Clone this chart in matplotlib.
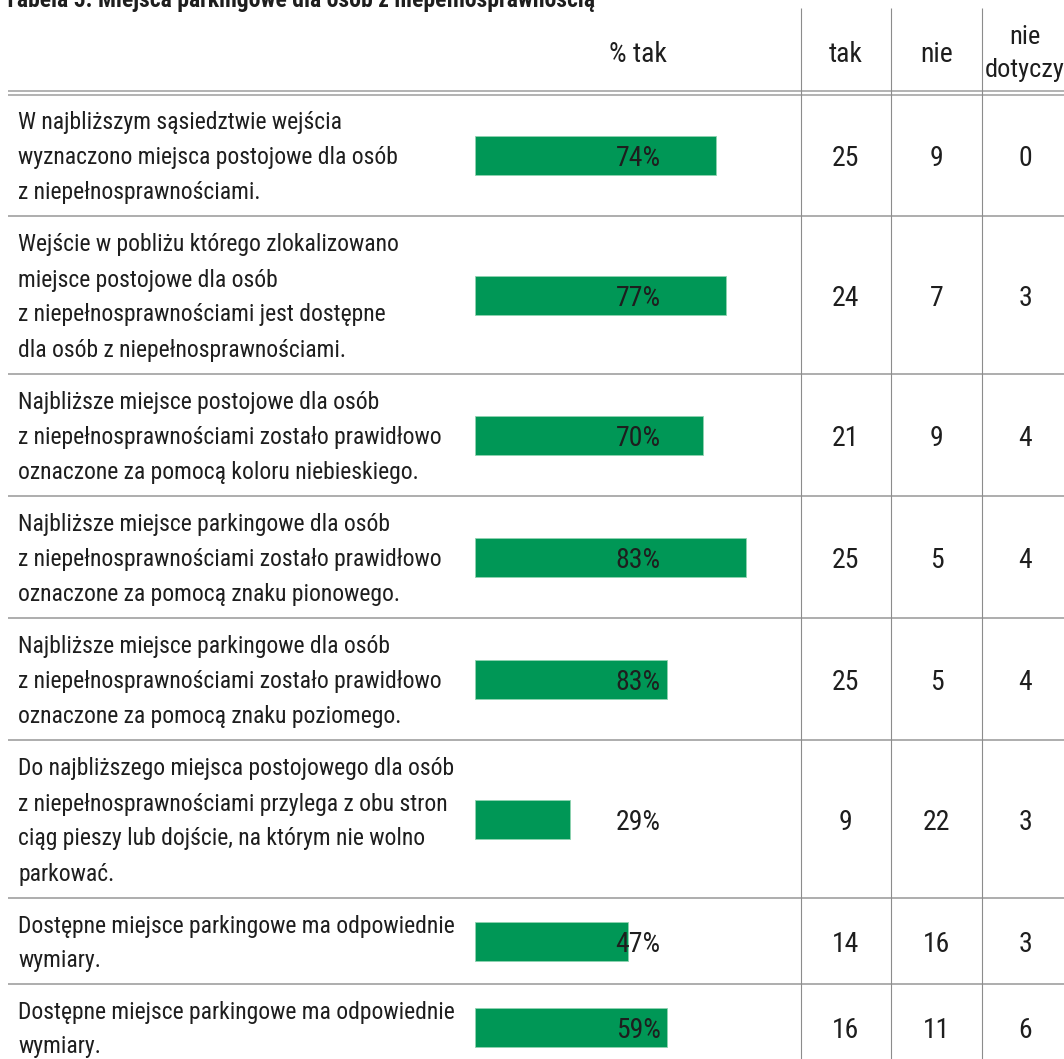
import matplotlib
matplotlib.use("Agg")
import matplotlib.pyplot as plt
from matplotlib import font_manager as fm

# --- data ---
title = "Tabela 5. Miejsca parkingowe dla osób z niepełnosprawnością"
questions = [
    "W najbliższym sąsiedztwie wejścia\nwyznaczono miejsca postojowe dla osób\nz niepełnosprawnościami.",
    "Wejście w pobliżu którego zlokalizowano\nmiejsce postojowe dla osób\nz niepełnosprawnościami jest dostępne\ndla osób z niepełnosprawnościami.",
    "Najbliższe miejsce postojowe dla osób\nz niepełnosprawnościami zostało prawidłowo\noznaczone za pomocą koloru niebieskiego.",
    "Najbliższe miejsce parkingowe dla osób\nz niepełnosprawnościami zostało prawidłowo\noznaczone za pomocą znaku pionowego.",
    "Najbliższe miejsce parkingowe dla osób\nz niepełnosprawnościami zostało prawidłowo\noznaczone za pomocą znaku poziomego.",
    "Do najbliższego miejsca postojowego dla osób\nz niepełnosprawnościami przylega z obu stron\nciąg pieszy lub dojście, na którym nie wolno\nparkować.",
    "Dostępne miejsce parkingowe ma odpowiednie\nwymiary.",
    "Dostępne miejsce parkingowe ma odpowiednie\nwymiary.",
]
bar_pct = [74, 77, 70, 83, 59, 29, 47, 59]
pct_labels = ["74%", "77%", "70%", "83%", "83%", "29%", "47%", "59%"]
tak = [25, 24, 21, 25, 25, 9, 14, 16]
nie = [9, 7, 9, 5, 5, 22, 16, 11]
nie_dotyczy = [0, 3, 4, 4, 4, 3, 3, 6]
col_headers = ["% tak", "tak", "nie", "nie\ndotyczy"]

# --- font ---
names = {f.name for f in fm.fontManager.ttflist}
FONT = "DejaVu Sans"
for fam in ["Roboto Condensed", "Open Sans Condensed", "Barlow Condensed",
            "Fira Sans Extra Condensed", "Archivo Narrow", "DejaVu Sans"]:
    if fam in names:
        FONT = fam
        break
plt.rcParams["font.family"] = [FONT, "DejaVu Sans"]
INK = "#1e1e1e"
GREEN = "#009756"
GRID = "#8c8c8c"

W, H = 1064, 1059
fig = plt.figure(figsize=(W / 100, H / 100), dpi=100)
ax = fig.add_axes([0, 0, 1, 1])
ax.set_xlim(0, W)
ax.set_ylim(H, 0)
ax.axis("off")

# row layout
top = 94
pitch = 35
bounds = [top]
for q in questions:
    n = q.count("\n") + 1
    bounds.append(bounds[-1] + 36 * n + 14)
centers = [(a + b) / 2 for a, b in zip(bounds[:-1], bounds[1:])]

col_x = [638, 845.5, 936.5, 1025]
vlines = [800.5, 891, 982]

# title (clipped at top like the reference)
ax.text(4, 7, title, fontsize=17, fontweight="bold", color=INK,
        ha="left", va="baseline")

# headers
ax.text(col_x[0], 52, col_headers[0], fontsize=20, color=INK, ha="center", va="center_baseline")
ax.text(col_x[1], 52, col_headers[1], fontsize=20, color=INK, ha="center", va="center_baseline")
ax.text(col_x[2], 52, col_headers[2], fontsize=20, color=INK, ha="center", va="center_baseline")
for i, part in enumerate(col_headers[3].split("\n")):
    ax.text(col_x[3], 35 + 33 * i, part, fontsize=19, color=INK, ha="center", va="center_baseline")

# grid lines
ax.hlines([top - 3, top + 1], 8, W, color="#a6a6a6", lw=1.2)
ax.hlines(bounds[1:-1], 8, W, color="#a0a0a0", lw=1.2)
ax.vlines(vlines, 8, H, color=GRID, lw=0.8)

# question text
for q, c in zip(questions, centers):
    lines = q.split("\n")
    n = len(lines)
    for i, line in enumerate(lines):
        ax.text(18, c + (i - (n - 1) / 2) * pitch, line, fontsize=17, color=INK,
                ha="left", va="center_baseline")

# counts
for c, a, b, d in zip(centers, tak, nie, nie_dotyczy):
    for x, v in zip(col_x[1:], (a, b, d)):
        ax.text(x, c, str(v), fontsize=20, color=INK, ha="center", va="center_baseline")

# bars: axes spanning 0-100 % between x=475 and x=801 px
bx = fig.add_axes([475 / W, 0, 326 / W, 1])
bx.set_xlim(0, 100)
bx.set_ylim(H, 0)
bx.axis("off")
bx.barh(centers, bar_pct, height=39, color=GREEN, edgecolor="#8fd3b0", linewidth=0.6)
for c, lab in zip(centers, pct_labels):
    bx.text(50, c, lab, fontsize=20, color=INK, ha="center", va="center_baseline")

fig.savefig("out.png", dpi=100)
